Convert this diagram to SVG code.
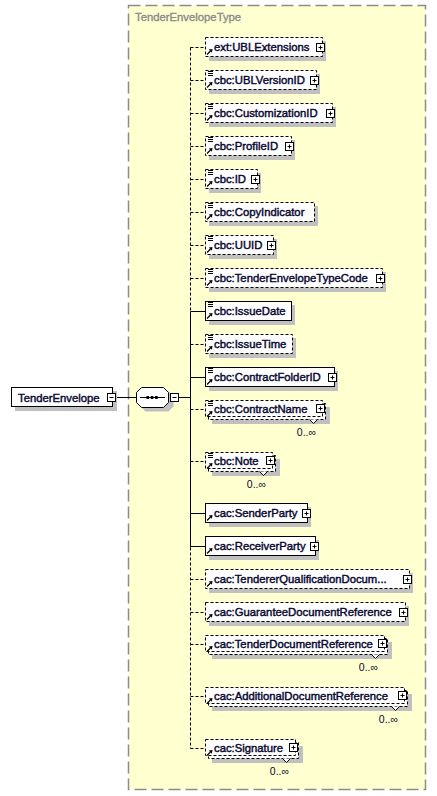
<svg xmlns="http://www.w3.org/2000/svg" xmlns:xlink="http://www.w3.org/1999/xlink" width="437" height="796" viewBox="0 0 437 796">
<style>
.bg{fill:#fff}
.cont{fill:#FFFFD0;stroke:#8c8c8c;stroke-width:1.5;stroke-dasharray:12,5}
.ctl{font-family:"Liberation Sans",Arial,sans-serif;font-size:11.3px;fill:#8a8a8a;stroke:#8a8a8a;stroke-width:0.35}
.box{fill:#fff;stroke:#000;stroke-width:1}
.opt{stroke-dasharray:3,2}
.sh{fill:#c0c0c0}
.t{font-family:"Liberation Sans",Arial,sans-serif;font-size:11.3px;fill:#07072f;stroke:#07072f;stroke-width:0.42}
.m{font-family:"Liberation Sans",Arial,sans-serif;font-size:10.5px;fill:#07072f;text-anchor:end}
.ln{stroke:#000;stroke-width:1;fill:none}
.dl{stroke:#000;stroke-width:1;fill:none;stroke-dasharray:3,2}
.notch{fill:#fff;stroke:#000;stroke-width:1}
</style>
<defs>
<g id="plus"><rect x="-4" y="-4" width="8" height="8" fill="#fff" stroke="#000"/><path d="M-2 0H2M0 -2V2" stroke="#000"/></g>
<g id="minus"><rect x="-4" y="-4" width="8" height="8" fill="#fff" stroke="#000"/><path d="M-2 0H2" stroke="#000"/></g>
<path id="simp" d="M0 0.5h5M0 2.5h5M0 4.5h5" stroke="#000" fill="none"/>
<g id="ref"><path d="M0 5.5L3.5 2" stroke="#000" stroke-width="1.3" fill="none"/><path d="M5.5 0L1.8 0.6L4.9 3.7Z" fill="#000"/></g>
</defs>
<rect class="bg" x="0" y="0" width="437" height="796"/>
<g id="type-container">
<rect class="cont" x="128.5" y="5.5" width="297" height="784"/>
<text class="ctl" x="135" y="21">TenderEnvelopeType</text>
</g>

<g id="connectors">
<path class="ln" d="M116 397.5H136.5"/>
<path class="ln" d="M178.5 397.5H190.5"/>
<path class="dl" d="M190.5 47.5V311.5"/>
<path class="ln" d="M190.5 311.5V547.5"/>
<path class="dl" d="M190.5 547.5V748.5"/>
<path class="dl" d="M190.5 47.5H205.5"/>
<path class="dl" d="M190.5 80.5H205.5"/>
<path class="dl" d="M190.5 113.5H205.5"/>
<path class="dl" d="M190.5 146.5H205.5"/>
<path class="dl" d="M190.5 179.5H205.5"/>
<path class="dl" d="M190.5 212.5H205.5"/>
<path class="dl" d="M190.5 245.5H205.5"/>
<path class="dl" d="M190.5 278.5H205.5"/>
<path class="ln" d="M190.5 311.5H205.5"/>
<path class="dl" d="M190.5 344.5H205.5"/>
<path class="ln" d="M190.5 377.5H205.5"/>
<path class="dl" d="M190.5 409.5H205.5"/>
<path class="dl" d="M190.5 461.5H205.5"/>
<path class="ln" d="M190.5 513.5H205.5"/>
<path class="ln" d="M190.5 546.5H205.5"/>
<path class="dl" d="M190.5 579.5H205.5"/>
<path class="dl" d="M190.5 612.5H205.5"/>
<path class="dl" d="M190.5 644.5H205.5"/>
<path class="dl" d="M190.5 696.5H205.5"/>
<path class="dl" d="M190.5 748.5H205.5"/>
</g>

<g id="root">
<rect class="sh" x="15" y="391" width="102" height="20"/>
<rect class="box" x="11.5" y="387.5" width="101" height="19"/>
<text class="t" x="18" y="401.5">TenderEnvelope</text>
<use xlink:href="#minus" x="111.5" y="397.5"/>
</g>

<g id="sequence">
<polygon class="sh" points="145.5,391.5 168.5,391.5 173.5,396.5 173.5,406.5 168.5,411.5 145.5,411.5 140.5,406.5 140.5,396.5"/>
<polygon class="box" points="141.5,387.5 163.5,387.5 168.5,392.5 168.5,402.5 163.5,407.5 141.5,407.5 136.5,402.5 136.5,392.5"/>
<path class="ln" d="M140 397.5H165"/>
<rect x="146.5" y="396" width="2.5" height="3" fill="#000"/>
<rect x="150.8" y="396" width="2.5" height="3" fill="#000"/>
<rect x="155.1" y="396" width="2.5" height="3" fill="#000"/>
<use xlink:href="#minus" x="174.5" y="397.5"/>
</g>

<g id="ext-UBLExtensions">
<rect class="sh" x="209" y="41" width="117" height="20"/>
<rect class="box opt" x="205.5" y="37.5" width="117" height="19"/>
<use xlink:href="#ref" x="207" y="49"/>
<text class="t" x="214" y="51">ext:UBLExtensions</text>
<use xlink:href="#plus" x="320.5" y="47.5"/>
</g>

<g id="cbc-UBLVersionID">
<rect class="sh" x="209" y="74" width="111" height="20"/>
<rect class="box opt" x="205.5" y="70.5" width="111" height="19"/>
<use xlink:href="#simp" x="208" y="71"/>
<use xlink:href="#ref" x="207" y="82"/>
<text class="t" x="214" y="84">cbc:UBLVersionID</text>
<use xlink:href="#plus" x="314.5" y="80.5"/>
</g>

<g id="cbc-CustomizationID">
<rect class="sh" x="209" y="107" width="127" height="20"/>
<rect class="box opt" x="205.5" y="103.5" width="127" height="19"/>
<use xlink:href="#simp" x="208" y="104"/>
<use xlink:href="#ref" x="207" y="115"/>
<text class="t" x="214" y="117">cbc:CustomizationID</text>
<use xlink:href="#plus" x="330.5" y="113.5"/>
</g>

<g id="cbc-ProfileID">
<rect class="sh" x="209" y="140" width="86" height="20"/>
<rect class="box opt" x="205.5" y="136.5" width="86" height="19"/>
<use xlink:href="#simp" x="208" y="137"/>
<use xlink:href="#ref" x="207" y="148"/>
<text class="t" x="214" y="150">cbc:ProfileID</text>
<use xlink:href="#plus" x="289.5" y="146.5"/>
</g>

<g id="cbc-ID">
<rect class="sh" x="209" y="173" width="52" height="20"/>
<rect class="box opt" x="205.5" y="169.5" width="52" height="19"/>
<use xlink:href="#simp" x="208" y="170"/>
<use xlink:href="#ref" x="207" y="181"/>
<text class="t" x="214" y="183">cbc:ID</text>
<use xlink:href="#plus" x="255.5" y="179.5"/>
</g>

<g id="cbc-CopyIndicator">
<rect class="sh" x="209" y="206" width="109" height="20"/>
<rect class="box opt" x="205.5" y="202.5" width="109" height="19"/>
<use xlink:href="#simp" x="208" y="203"/>
<use xlink:href="#ref" x="207" y="214"/>
<text class="t" x="214" y="216">cbc:CopyIndicator</text>
</g>

<g id="cbc-UUID">
<rect class="sh" x="209" y="239" width="68" height="20"/>
<rect class="box opt" x="205.5" y="235.5" width="68" height="19"/>
<use xlink:href="#simp" x="208" y="236"/>
<use xlink:href="#ref" x="207" y="247"/>
<text class="t" x="214" y="249">cbc:UUID</text>
<use xlink:href="#plus" x="271.5" y="245.5"/>
</g>

<g id="cbc-TenderEnvelopeTypeCode">
<rect class="sh" x="209" y="272" width="177" height="20"/>
<rect class="box opt" x="205.5" y="268.5" width="177" height="19"/>
<use xlink:href="#simp" x="208" y="269"/>
<use xlink:href="#ref" x="207" y="280"/>
<text class="t" x="214" y="282">cbc:TenderEnvelopeTypeCode</text>
<use xlink:href="#plus" x="380.5" y="278.5"/>
</g>

<g id="cbc-IssueDate">
<rect class="sh" x="209" y="305" width="86" height="20"/>
<rect class="box" x="205.5" y="301.5" width="86" height="19"/>
<use xlink:href="#simp" x="208" y="302"/>
<use xlink:href="#ref" x="207" y="313"/>
<text class="t" x="214" y="315">cbc:IssueDate</text>
</g>

<g id="cbc-IssueTime">
<rect class="sh" x="209" y="338" width="87" height="20"/>
<rect class="box opt" x="205.5" y="334.5" width="87" height="19"/>
<use xlink:href="#simp" x="208" y="335"/>
<use xlink:href="#ref" x="207" y="346"/>
<text class="t" x="214" y="348">cbc:IssueTime</text>
</g>

<g id="cbc-ContractFolderID">
<rect class="sh" x="209" y="371" width="129" height="20"/>
<rect class="box" x="205.5" y="367.5" width="129" height="19"/>
<use xlink:href="#simp" x="208" y="368"/>
<use xlink:href="#ref" x="207" y="379"/>
<text class="t" x="214" y="381">cbc:ContractFolderID</text>
<use xlink:href="#plus" x="332.5" y="377.5"/>
</g>

<g id="cbc-ContractName">
<rect class="sh" x="212" y="407" width="118" height="17"/>
<rect class="box opt" x="208.5" y="403.5" width="117" height="16"/>
<rect class="box opt" x="205.5" y="400.5" width="117" height="16"/>
<polyline class="notch" points="309.5,419.5 313.5,423.5 317.5,419.5"/>
<use xlink:href="#simp" x="208" y="401"/>
<use xlink:href="#ref" x="207" y="411"/>
<text class="t" x="214" y="413">cbc:ContractName</text>
<use xlink:href="#plus" x="320.5" y="408.5"/>
<text class="m" x="316" y="436">0..∞</text>
</g>

<g id="cbc-Note">
<rect class="sh" x="212" y="459" width="68" height="17"/>
<rect class="box opt" x="208.5" y="455.5" width="67" height="16"/>
<rect class="box opt" x="205.5" y="452.5" width="67" height="16"/>
<polyline class="notch" points="259.5,471.5 263.5,475.5 267.5,471.5"/>
<use xlink:href="#simp" x="208" y="453"/>
<use xlink:href="#ref" x="207" y="463"/>
<text class="t" x="214" y="465">cbc:Note</text>
<use xlink:href="#plus" x="270.5" y="460.5"/>
<text class="m" x="266" y="488">0..∞</text>
</g>

<g id="cac-SenderParty">
<rect class="sh" x="209" y="507" width="102" height="20"/>
<rect class="box" x="205.5" y="503.5" width="102" height="19"/>
<use xlink:href="#ref" x="207" y="515"/>
<text class="t" x="214" y="517">cac:SenderParty</text>
<use xlink:href="#plus" x="306.5" y="513.5"/>
</g>

<g id="cac-ReceiverParty">
<rect class="sh" x="209" y="540" width="110" height="20"/>
<rect class="box" x="205.5" y="536.5" width="110" height="19"/>
<use xlink:href="#ref" x="207" y="548"/>
<text class="t" x="214" y="550">cac:ReceiverParty</text>
<use xlink:href="#plus" x="314.5" y="546.5"/>
</g>

<g id="cac-TendererQualificationDocumentReference">
<rect class="sh" x="209" y="573" width="204" height="20"/>
<rect class="box opt" x="205.5" y="569.5" width="204" height="19"/>
<use xlink:href="#ref" x="207" y="581"/>
<text class="t" x="214" y="583">cac:TendererQualificationDocum...</text>
<use xlink:href="#plus" x="407.5" y="579.5"/>
</g>

<g id="cac-GuaranteeDocumentReference">
<rect class="sh" x="209" y="606" width="200" height="20"/>
<rect class="box opt" x="205.5" y="602.5" width="200" height="19"/>
<use xlink:href="#ref" x="207" y="614"/>
<text class="t" x="214" y="616">cac:GuaranteeDocumentReference</text>
<use xlink:href="#plus" x="403.5" y="612.5"/>
</g>

<g id="cac-TenderDocumentReference">
<rect class="sh" x="212" y="642" width="180" height="17"/>
<rect class="box opt" x="208.5" y="638.5" width="179" height="16"/>
<rect class="box opt" x="205.5" y="635.5" width="179" height="16"/>
<polyline class="notch" points="371.5,654.5 375.5,658.5 379.5,654.5"/>
<use xlink:href="#ref" x="207" y="646"/>
<text class="t" x="214" y="648">cac:TenderDocumentReference</text>
<use xlink:href="#plus" x="382.5" y="643.5"/>
<text class="m" x="378" y="671">0..∞</text>
</g>

<g id="cac-AdditionalDocumentReference">
<rect class="sh" x="212" y="694" width="200" height="17"/>
<rect class="box opt" x="208.5" y="690.5" width="199" height="16"/>
<rect class="box opt" x="205.5" y="687.5" width="199" height="16"/>
<polyline class="notch" points="391.5,706.5 395.5,710.5 399.5,706.5"/>
<use xlink:href="#ref" x="207" y="698"/>
<text class="t" x="214" y="700">cac:AdditionalDocumentReference</text>
<use xlink:href="#plus" x="402.5" y="695.5"/>
<text class="m" x="398" y="723">0..∞</text>
</g>

<g id="cac-Signature">
<rect class="sh" x="212" y="746" width="91" height="17"/>
<rect class="box opt" x="208.5" y="742.5" width="90" height="16"/>
<rect class="box opt" x="205.5" y="739.5" width="90" height="16"/>
<polyline class="notch" points="282.5,758.5 286.5,762.5 290.5,758.5"/>
<use xlink:href="#ref" x="207" y="750"/>
<text class="t" x="214" y="752">cac:Signature</text>
<use xlink:href="#plus" x="293.5" y="747.5"/>
<text class="m" x="289" y="775">0..∞</text>
</g>
</svg>
